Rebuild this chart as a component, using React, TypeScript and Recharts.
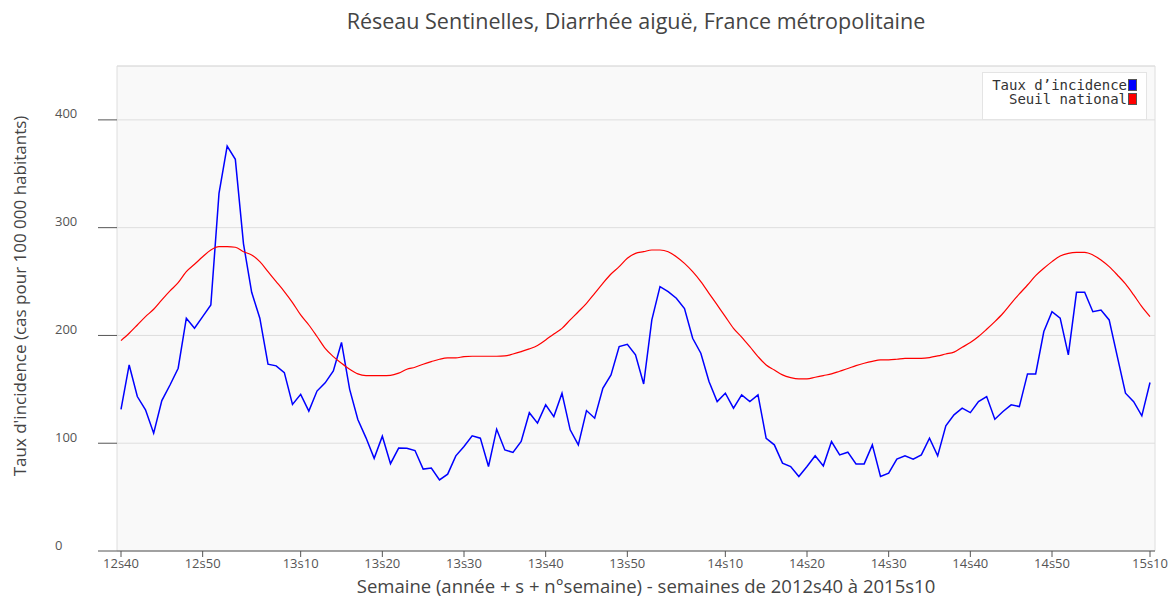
import { LineChart, Line, XAxis, YAxis, CartesianGrid, Legend, ReferenceLine } from 'recharts';

// Weekly incidence rate, 2012s40 .. 2015s10 (127 weeks)
const incidence = [
  131.5, 172.6, 143.3, 131, 109.3, 139.6, 154, 169.6, 216, 206.7,
  217.5, 228.3, 331.8, 375.7, 363.4, 285, 240, 216, 173.3, 171.8,
  165.5, 136, 145.3, 129.8, 148.4, 156, 167, 193.5, 150, 122,
  105, 86, 106.5, 81, 95.5, 95.4, 93.2, 76, 77, 66,
  71.3, 88.3, 97, 106.8, 104.7, 78.4, 113, 93.8, 91.4, 101.6,
  128.3, 118.6, 135.6, 124.7, 146.4, 112.4, 98.5, 130.3, 123.2, 151,
  163.4, 189.6, 191.8, 182, 155, 214.4, 245.3, 240.7, 234.5, 225,
  197.4, 183.5, 157.2, 138.6, 146.4, 132.5, 144.8, 138.6, 144.8, 104.6,
  98.5, 81.5, 78.4, 69.1, 78.4, 88.3, 79, 101.6, 89.2, 91.7,
  80.8, 80.8, 98.5, 69.1, 72.2, 85.2, 88.3, 85.2, 89.2, 104.6,
  88.3, 116.1, 126.3, 132.5, 128.4, 138.6, 143.3, 122.3, 129.4, 135.6,
  134, 164.3, 164.3, 203.6, 222, 216, 182, 240, 240, 222,
  223.6, 214.4, 180.4, 146.4, 138.6, 125.4, 156.3,
];

// Epidemic threshold
const threshold = [
  195.2, 202, 209.7, 217.5, 224.3, 233, 241.3, 249, 259.2, 266,
  273, 279.3, 282.4, 282.4, 281.8, 277.7, 274.7, 268.5, 259.2, 250,
  240.7, 230.5, 219, 209.7, 199, 188, 180.4, 174.2, 168.6, 164.3,
  162.8, 162.8, 162.8, 163, 165, 168.6, 170.5, 173.3, 175.7, 177.9,
  179.1, 179.1, 180.4, 180.7, 180.7, 180.7, 180.7, 181, 182.8, 185,
  187.5, 190.7, 195.8, 201.4, 206.6, 214.4, 222, 229.8, 239, 248.4,
  257, 263.8, 271.6, 276.2, 277.7, 279.3, 279.3, 277.7, 273.1, 266.9,
  259.2, 250, 239.1, 228.3, 217.5, 206.6, 198.5, 189.6, 180.4, 172.6,
  168, 163.4, 160.9, 159.7, 159.7, 161.2, 162.8, 164.3, 166.8, 169.3,
  172, 174.2, 176, 177.3, 177.3, 177.9, 178.8, 178.8, 178.8, 179.5,
  181, 182.8, 184.5, 189, 193.4, 199, 205.7, 212.8, 220.6, 229.8,
  238.5, 246.8, 255.5, 262.3, 268.5, 273.7, 276.2, 277.1, 277.1, 274.7,
  270, 263.8, 256.1, 247.8, 237.6, 226.7, 217.5,
];

const tickWeeks = [
  '2012s40', '2012s50', '2013s10', '2013s20', '2013s30', '2013s40', '2013s50',
  '2014s10', '2014s20', '2014s30', '2014s40', '2014s50', '2015s10',
];
const yTicks = [0, 100, 200, 300, 400];
const legendOrder = ['rate', 'seuil'];

// week labels: 2012s40..2012s52, 2013 (52), 2014 (52), 2015s01..s10
const weeks: string[] = [];
for (let w = 40; w <= 52; w++) weeks.push(`2012s${w}`);
for (const yr of [2013, 2014]) for (let w = 1; w <= 52; w++) weeks.push(`${yr}s${String(w).padStart(2, '0')}`);
for (let w = 1; w <= 10; w++) weeks.push(`2015s${String(w).padStart(2, '0')}`);

const data = weeks.map((week, i) => ({ week, rate: incidence[i], seuil: threshold[i] }));

const FONT = '"Open Sans", "Noto Sans", sans-serif';

const YTick = ({ y, payload }: any) => (
  <text x={55} y={y - 6} dy="0.35em" fill="#555" fontSize={13} fontFamily={FONT}>
    {payload.value}
  </text>
);

const LegendBox = ({ payload }: any) => {
  const items = [...(payload || [])].sort(
    (a: any, b: any) => legendOrder.indexOf(a.dataKey) - legendOrder.indexOf(b.dataKey)
  );
  return (
    <div
      style={{
        width: 165,
        height: 48,
        boxSizing: 'border-box',
        background: '#fff',
        border: '1px solid #e4e4e4',
        padding: '5px 9px 0 0',
        fontFamily: '"DejaVu Sans Mono", monospace',
        fontSize: 14,
        color: '#333',
      }}
    >
      {items.map((p: any) => (
        <div key={p.value} style={{ display: 'flex', justifyContent: 'flex-end', alignItems: 'center', height: 14 }}>
          <span style={{ whiteSpace: 'pre' }}>{p.value}</span>
          <span
            style={{
              display: 'inline-block',
              width: 9,
              height: 12,
              marginLeft: 1,
              background: p.color,
              border: '1px solid #555',
              boxSizing: 'border-box',
            }}
          />
        </div>
      ))}
    </div>
  );
};

export default function App() {
  return (
    <div style={{ position: 'absolute', left: 0, top: 0, width: 1173, height: 601, background: '#fff' }}>
      <div
        style={{
          position: 'absolute', left: 117, top: 9, width: 1038, textAlign: 'center',
          fontFamily: FONT, fontSize: 21.5, lineHeight: '24px', color: '#444',
        }}
      >
        Réseau Sentinelles, Diarrhée aiguë, France métropolitaine
      </div>
      <div
        style={{
          position: 'absolute', left: 127, top: 575, width: 1038, textAlign: 'center',
          fontFamily: FONT, fontSize: 18.5, lineHeight: '22px', color: '#444',
        }}
      >
        Semaine (année + s + n°semaine) - semaines de 2012s40 à 2015s10
      </div>
      <div
        style={{
          position: 'absolute', left: -180, top: 286, width: 400, height: 20, textAlign: 'center',
          fontFamily: FONT, fontSize: 17, lineHeight: '20px', color: '#444', transform: 'rotate(-90deg)',
        }}
      >
        Taux d'incidence (cas pour 100 000 habitants)
      </div>
      <LineChart width={1173} height={601} data={data} margin={{ top: 66, right: 0, bottom: 0, left: 55 }}>
        <CartesianGrid
          fill="#f9f9f9"
          fillOpacity={1}
          stroke="#dedede"
          verticalCoordinatesGenerator={({ offset }: any) => [offset.left, offset.left + offset.width]}
        />
        <ReferenceLine y={450} stroke="#dedede" />
        <XAxis
          dataKey="week"
          ticks={tickWeeks}
          interval={0}
          height={50}
          padding={{ left: 4, right: 5 }}
          tickFormatter={(w: string) => w.slice(2)}
          tick={{ fill: '#555', fontSize: 13, fontFamily: FONT }}
          tickSize={6}
          tickLine={{ stroke: '#555' }}
          axisLine={{ stroke: '#555' }}
        />
        <YAxis
          width={62}
          domain={[0, 450]}
          ticks={yTicks}
          tick={<YTick />}
          tickSize={19}
          tickLine={{ stroke: '#555' }}
          axisLine={false}
        />
        <YAxis
          yAxisId="right"
          orientation="right"
          width={18}
          domain={[0, 450]}
          ticks={yTicks}
          tick={false}
          tickSize={18}
          tickLine={{ stroke: '#555' }}
          axisLine={false}
        />
        <Legend
          layout="vertical"
          align="center"
          verticalAlign="middle"
          content={<LegendBox />}
          wrapperStyle={{ left: 982, top: 72, width: 165 }}
        />
        <Line
          type="linear"
          dataKey="rate"
          name="Taux d’incidence"
          stroke="#0000ff"
          strokeWidth={1.5}
          dot={false}
          isAnimationActive={false}
        />
        <Line
          type="monotone"
          dataKey="seuil"
          name="Seuil national"
          stroke="#ff0000"
          strokeWidth={1.2}
          dot={false}
          isAnimationActive={false}
        />
      </LineChart>
    </div>
  );
}
